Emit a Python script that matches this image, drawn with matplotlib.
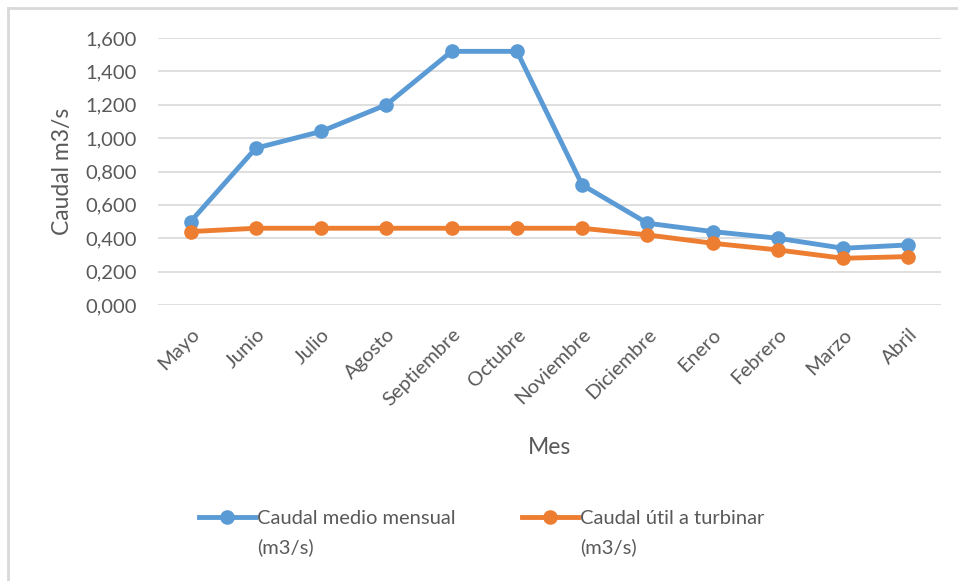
import matplotlib
matplotlib.use("Agg")
import matplotlib.pyplot as plt
from matplotlib.lines import Line2D
from matplotlib.ticker import FuncFormatter

meses = ["Mayo", "Junio", "Julio", "Agosto", "Septiembre", "Octubre",
         "Noviembre", "Diciembre", "Enero", "Febrero", "Marzo", "Abril"]
caudal_medio = [0.50, 0.94, 1.04, 1.20, 1.52, 1.52, 0.72, 0.49, 0.44, 0.40, 0.34, 0.36]
caudal_util = [0.44, 0.46, 0.46, 0.46, 0.46, 0.46, 0.46, 0.42, 0.37, 0.33, 0.28, 0.29]
y_ticks = [0.0, 0.2, 0.4, 0.6, 0.8, 1.0, 1.2, 1.4, 1.6]
serie_medio = ("Caudal medio mensual", "(m3/s)")
serie_util = ("Caudal útil a turbinar", "(m3/s)")

AZUL = "#5B9BD5"
NARANJA = "#ED7D31"
GRIS_TXT = "#595959"
GRIS_GRID = "#D9D9D9"
FS_TICK = 14.5
FS_TITLE = 16.5

plt.rcParams["font.family"] = ["Lato", "DejaVu Sans"]

W, H = 958, 581
fig = plt.figure(figsize=(W / 100, H / 100), dpi=100)

# plot area in pixel coordinates
x0, x1 = 158, 941
y_top, y_bot = 38, 305
ax = fig.add_axes([x0 / W, 1 - y_bot / H, (x1 - x0) / W, (y_bot - y_top) / H])

x = list(range(len(meses)))
estilo = dict(lw=3.5, marker="o", ms=9.5, zorder=3,
              solid_capstyle="round", solid_joinstyle="round")
ax.plot(x, caudal_medio, color=AZUL, **estilo)
ax.plot(x, caudal_util, color=NARANJA, **estilo)

ax.set_xlim(-0.5, len(meses) - 0.5)
ax.set_ylim(0, 1.6)
ax.set_yticks(y_ticks)
ax.yaxis.set_major_formatter(FuncFormatter(lambda v, p: f"{v:.3f}".replace(".", ",")))
ax.grid(axis="y", color=GRIS_GRID, lw=1.2)
ax.set_axisbelow(True)
for s in ax.spines.values():
    s.set_visible(False)
ax.tick_params(axis="both", length=0, colors=GRIS_TXT, labelsize=FS_TICK)
ax.tick_params(axis="y", pad=15)
ax.set_xticks(x)
ax.set_xticklabels(meses, rotation=45, ha="right", rotation_mode="anchor")
ax.tick_params(axis="x", pad=15)

ax.set_ylabel("Caudal m3/s", color=GRIS_TXT, fontsize=FS_TITLE)
ax.yaxis.set_label_coords((73 - x0) / (x1 - x0), 0.5)
fig.text(550 / W, 1 - 447 / H, "Mes", color=GRIS_TXT, fontsize=FS_TITLE,
         ha="center", va="center")

# legend: marker aligned with the first line of each two-line entry
vacio = Line2D([], [], color="none")
for color, textos, xpix in ((AZUL, serie_medio, 199), (NARANJA, serie_util, 522)):
    h = Line2D([], [], color=color, lw=3.5, marker="o", ms=9.5)
    fig.legend([h, vacio], list(textos), loc="upper left",
               bbox_to_anchor=(xpix / W, 1 - 510 / H), frameon=False,
               fontsize=FS_TICK, labelcolor=GRIS_TXT, borderpad=0,
               borderaxespad=0, handlelength=2.8, handletextpad=0.1,
               labelspacing=0.55)

# outer frame (left and top edges)
fig.add_artist(Line2D([8 / W, 8 / W], [0, 1 - 8 / H], color=GRIS_GRID, lw=2,
                      transform=fig.transFigure))
fig.add_artist(Line2D([8 / W, 1], [1 - 8 / H, 1 - 8 / H], color=GRIS_GRID, lw=2,
                      transform=fig.transFigure))

fig.savefig("out.png", dpi=100, facecolor="white")
